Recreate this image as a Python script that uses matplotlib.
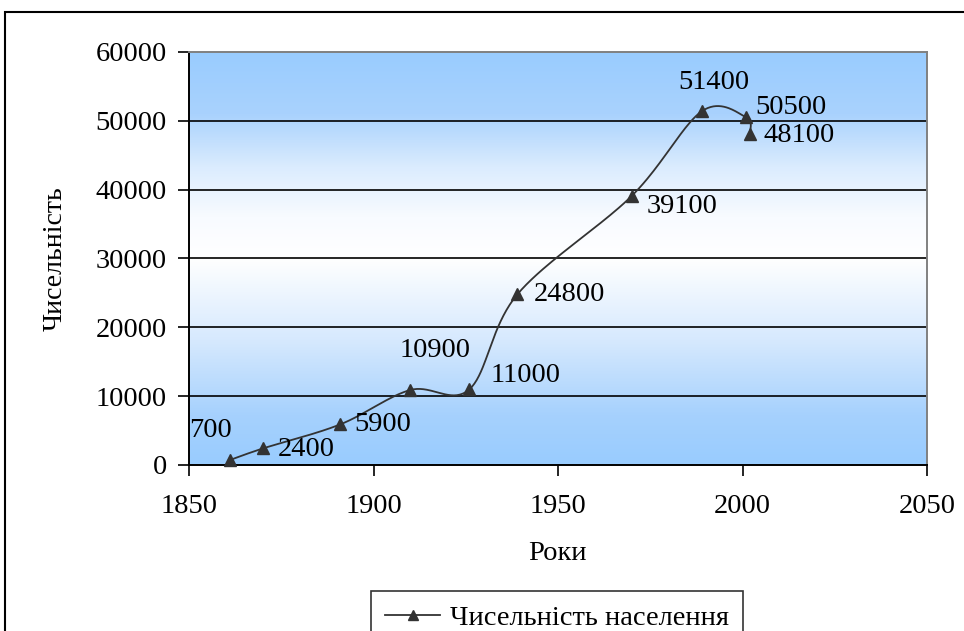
import numpy as np
import matplotlib
matplotlib.use("Agg")
import matplotlib.pyplot as plt
from matplotlib.colors import LinearSegmentedColormap
from matplotlib.patches import Rectangle
from matplotlib.lines import Line2D

years = [1861, 1870, 1891, 1910, 1926, 1939, 1970, 1989, 2001, 2002]
population = [700, 2400, 5900, 10900, 11000, 24800, 39100, 51400, 50500, 48100]
labels = ["700", "2400", "5900", "10900", "11000", "24800", "39100", "51400", "50500", "48100"]
label_offsets = [(-40, 30), (15, -1), (14, 0), (25, 39), (21, 14), (16, 0), (15, -11), (12, 29), (9, 10), (14, -2)]
label_ha = ["left", "left", "left", "center", "left", "left", "left", "center", "left", "left"]
x_ticks = [1850, 1900, 1950, 2000, 2050]
y_ticks = [0, 10000, 20000, 30000, 40000, 50000, 60000]
series_name = "Чисельність населення"
x_title = "Роки"
y_title = "Чисельність"

W, H = 964, 631
fig = plt.figure(figsize=(W / 100, H / 100), dpi=100)
fig.patch.set_facecolor("white")

# outer chart frame
fig.patches.append(Rectangle((5 / W, -0.2), 1.2, (H - 12) / H + 0.2, transform=fig.transFigure,
                             fill=False, edgecolor="black", lw=1.5))

L, R, T, B = 189, 927, 52, 465
ax = fig.add_axes([L / W, (H - B) / H, (R - L) / W, (B - T) / H])

font = "Liberation Serif"
fs = 20.5

ax.set_xlim(1850, 2050)
ax.set_ylim(0, 60000)

# gradient background (blue at edges, white in centre)
cmap = LinearSegmentedColormap.from_list(
    "bg", [(0.0, "#99ccff"), (0.12, "#a6d1fd"), (0.3, "#d6e9fe"), (0.5, "#ffffff"),
           (0.6, "#f8fbff"), (0.72, "#dbecfe"), (0.85, "#a9d2fd"), (1.0, "#99ccff")])
grad = np.linspace(0, 1, 512).reshape(-1, 1)
ax.imshow(grad, aspect="auto", cmap=cmap, origin="lower",
          extent=[1850, 2050, 0, 60000], zorder=0)

for yv in y_ticks[1:-1]:
    ax.axhline(yv, color="black", lw=1.2, zorder=1)

# smooth curve (Bezier, Excel-like) computed in pixel space
sx = (R - L) / 200.0
sy = (B - T) / 60000.0
P = np.column_stack([(np.array(years) - 1850) * sx, np.array(population) * sy])
n = len(P)
curve = []
for i in range(n - 1):
    p0 = P[i - 1] if i > 0 else P[i]
    p1 = P[i]
    p2 = P[i + 1]
    p3 = P[i + 2] if i + 2 < n else P[i + 1]
    c1 = p1 + (p2 - p0) / 6.0
    c2 = p2 - (p3 - p1) / 6.0
    t = np.linspace(0, 1, 40)[:, None]
    seg = ((1 - t) ** 3) * p1 + 3 * ((1 - t) ** 2) * t * c1 + 3 * (1 - t) * t ** 2 * c2 + t ** 3 * p2
    curve.append(seg)
curve = np.vstack(curve)
cx = curve[:, 0] / sx + 1850
cy = curve[:, 1] / sy
ax.plot(cx, cy, color="#333333", lw=1.3, zorder=3)
ax.plot(years, population, linestyle="none", marker="^", markersize=8,
        color="#333333", zorder=4, clip_on=False)

for xv, yv, lab, off, ha in zip(years, population, labels, label_offsets, label_ha):
    ax.annotate(lab, (xv, yv), xytext=off, textcoords="offset pixels",
                ha=ha, va="center", fontsize=fs, fontfamily=font, color="black", zorder=5)

ax.set_xticks(x_ticks)
ax.set_yticks(y_ticks)
ax.set_xticklabels([str(v) for v in x_ticks], fontsize=fs, fontfamily=font)
ax.set_yticklabels([str(v) for v in y_ticks], fontsize=fs, fontfamily=font)
ax.tick_params(axis="x", direction="out", length=8, width=1.2, pad=13)
ax.tick_params(axis="y", direction="out", length=8, width=1.2, pad=8)

for s in ["left", "bottom"]:
    ax.spines[s].set_color("black")
    ax.spines[s].set_linewidth(1.4)
for s in ["top", "right"]:
    ax.spines[s].set_color("#808080")
    ax.spines[s].set_linewidth(1.4)

fig.text(557 / W, 1 - 553 / H, x_title, ha="center", va="center", fontsize=fs, fontfamily=font)
fig.text(55 / W, 1 - 259 / H, y_title, ha="center", va="center", rotation=90,
         fontsize=20, fontfamily=font)

handle = Line2D([], [], color="#333333", lw=1.3, marker="^", markersize=7)
leg = fig.legend([handle], [series_name], loc="upper center",
                 bbox_to_anchor=(557 / W, 1 - 591 / H), frameon=True, fancybox=False,
                 prop={"family": font, "size": fs}, handlelength=1.9, handletextpad=0.35,
                 borderpad=0.5, borderaxespad=0)
leg.get_frame().set_edgecolor("black")
leg.get_frame().set_linewidth(1.2)

fig.savefig("out.png", dpi=100)
